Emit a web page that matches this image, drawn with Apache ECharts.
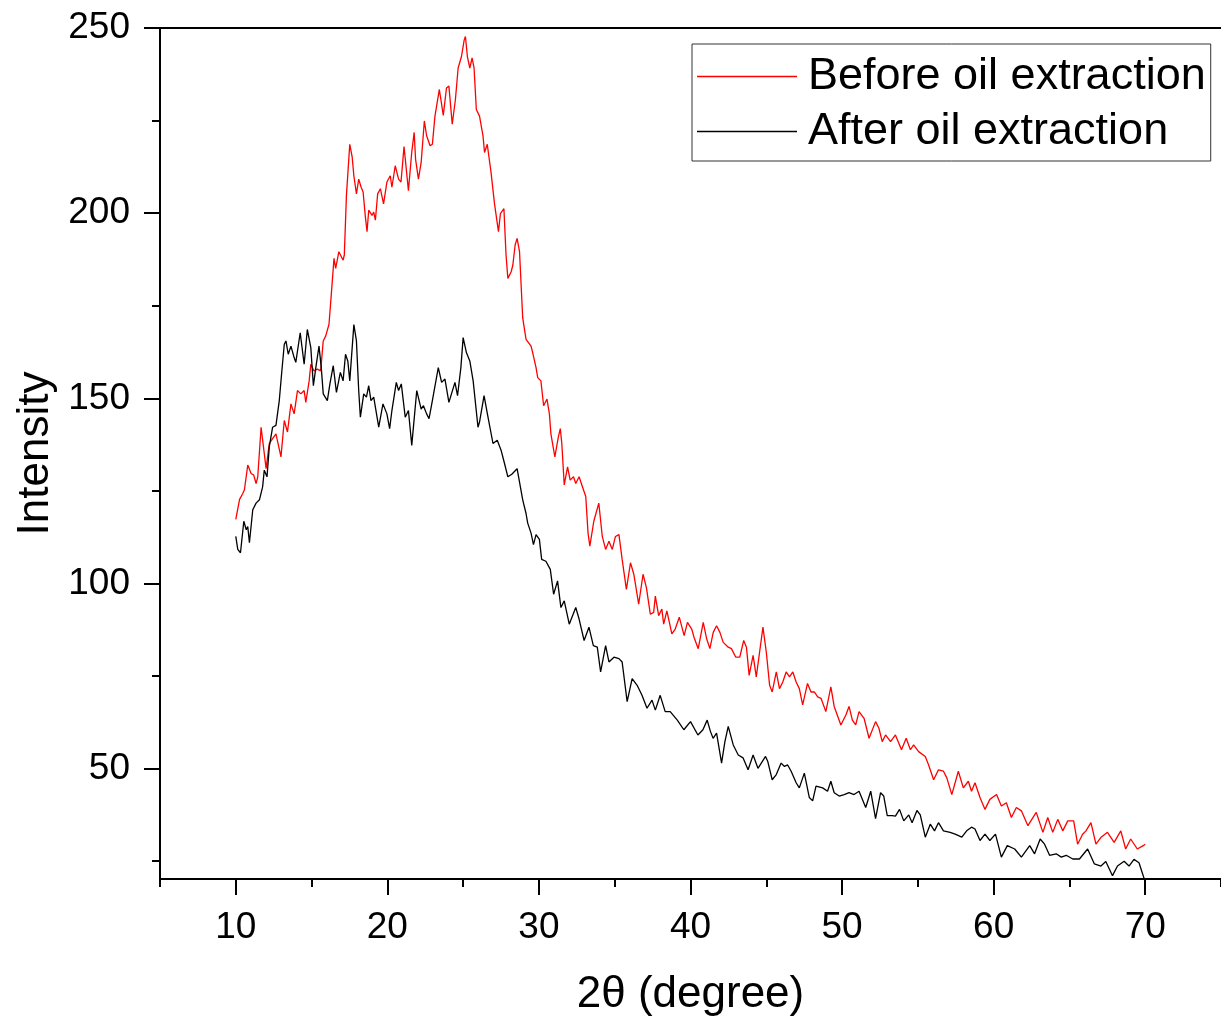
<!DOCTYPE html>
<html>
<head>
<meta charset="utf-8">
<script src="https://cdn.jsdelivr.net/npm/echarts@6/dist/echarts.min.js"></script>
<style>
html,body{margin:0;padding:0;background:#fff;}
#chart{width:1221px;height:1022px;}
</style>
</head>
<body>
<div id="chart"></div>
<script>
// ---- data ----
var xMajorTicks = [10, 20, 30, 40, 50, 60, 70];
var xMinorTicks = [5, 15, 25, 35, 45, 55, 65, 75];
var yMajorTicks = [50, 100, 150, 200, 250];
var yMinorTicks = [25, 75, 125, 175, 225];
var seriesNames = ['Before oil extraction', 'After oil extraction'];

var beforeX = [10.00,10.25,10.46,10.57,10.79,11.01,11.18,11.34,11.45,11.67,
12.00,12.21,12.43,12.65,12.98,13.20,13.41,13.64,13.85,14.07,
14.29,14.51,14.62,14.84,14.95,15.16,15.38,15.60,15.77,15.93,
16.15,16.30,16.48,16.59,16.80,17.08,17.16,17.30,17.52,17.68,
17.79,17.96,18.11,18.27,18.40,18.55,18.66,18.77,18.99,19.10,
19.21,19.36,19.54,19.75,19.97,20.19,20.30,20.52,20.74,20.90,
21.10,21.39,21.61,21.77,21.86,22.05,22.23,22.44,22.59,22.82,
22.97,23.14,23.43,23.69,23.90,24.06,24.28,24.49,24.67,24.89,
25.07,25.15,25.28,25.44,25.59,25.72,25.87,26.08,26.31,26.41,
26.59,26.84,27.07,27.33,27.46,27.69,27.83,27.95,28.17,28.28,
28.43,28.56,28.72,28.93,29.15,29.48,29.59,29.81,29.92,30.13,
30.31,30.53,30.69,30.79,31.05,31.28,31.41,31.51,31.67,31.89,
32.06,32.28,32.43,32.65,32.87,33.09,33.24,33.36,33.62,33.95,
34.18,34.40,34.62,34.84,35.05,35.28,35.49,35.77,36.04,36.26,
36.58,36.87,37.09,37.35,37.57,37.68,37.90,38.11,38.23,38.44,
38.77,38.99,39.26,39.58,39.80,40.08,40.23,40.51,40.84,41.07,
41.28,41.50,41.72,41.94,42.16,42.49,42.70,42.99,43.25,43.51,
43.69,43.87,44.13,44.34,44.56,44.78,45.00,45.22,45.39,45.66,
45.87,46.09,46.31,46.53,46.75,46.97,47.18,47.40,47.72,47.95,
48.17,48.39,48.61,48.93,49.26,49.48,49.92,50.25,50.46,50.68,
50.90,51.12,51.45,51.78,52.21,52.43,52.65,52.87,53.20,53.52,
53.92,54.23,54.51,54.72,55.05,55.49,55.71,56.04,56.36,56.69,
56.91,57.24,57.67,58.00,58.33,58.54,58.77,59.10,59.43,59.75,
60.19,60.51,60.84,61.17,61.50,61.83,62.26,62.81,63.25,63.57,
63.90,64.23,64.56,64.89,65.28,65.54,65.87,66.09,66.42,66.75,
67.07,67.51,67.95,68.39,68.71,69.04,69.48,69.87,70.00];
var beforeY = [117.3,122.7,124.3,125.3,132,129.7,129.3,127,128.8,142.2,
131,137.8,139.1,140.4,134.2,144,140.9,148.5,145.8,152.1,
151.2,152.1,148.9,154.7,159.2,157.4,157.9,157.4,165.5,166.8,
170,178,187.8,185.1,189.6,187.3,188.7,204.8,218.6,215.1,
210.1,205.2,209.2,207,205.7,199,195,200.8,199.4,200.3,
198.1,205.2,206.6,202.5,208.4,210.1,207,212.8,209.2,208.4,
218,206.1,216.5,221.8,214.6,209.2,213.7,224.9,220.9,218.2,
218.6,226.2,233.4,226.4,233.8,234.3,224,230.7,239.2,242.3,
246.8,247.7,242.3,239.2,241.9,239.2,228,226.2,220.9,216.4,
218.6,211,202.5,195,199.9,201.2,188.7,182.4,184.2,186,
191.4,193.2,189.6,171.7,165.9,164.1,162.3,158.3,155.6,154.7,
148,149.8,145.8,140.4,134.2,139.5,141.8,137.8,126.6,131.5,
127.9,128.8,127,128.8,126.1,123.5,113.6,110.1,116.8,121.7,
112.7,109.2,111.4,109.2,112.7,113.2,106.5,98.4,105.6,102.5,
94.4,102.5,98.9,91.7,92.2,96.6,91.3,93.1,89,92.6,
86.4,87.7,90.9,85.9,89.5,87.7,85.5,82.4,89.5,85,
82.4,86.8,88.6,86.8,84.1,82.8,82.4,80.1,80.1,84.6,
82.8,75.2,80.6,74.8,81.5,88.2,81.5,72.5,70.7,76.1,
71.6,73.4,76.1,74.8,76.1,73.4,71.6,67.2,73,70.7,
70.7,69.4,69,65.4,72.1,66.8,61.8,64.5,66.8,63.1,
61.8,65.4,63.6,58.2,62.7,60.9,57.3,59.1,57.3,59.1,
55.1,58.2,55.1,56.4,54.6,53.3,51,47,49.7,49.3,
47.5,43,49.3,44.8,46.6,43.9,46.2,42.2,39,41.7,
43,39.9,40.8,36.8,39.5,38.6,34.6,38.2,32.8,36.8,
32.8,36.3,33.2,35.9,35.9,29.6,32.3,33.2,35.4,29.6,
31.4,32.8,30.1,33.2,28.3,31,28.3,29.2,29.6];

var afterX = [10.00,10.13,10.31,10.53,10.69,10.79,10.90,11.12,11.34,11.56,
11.77,11.88,12.06,12.21,12.43,12.65,12.76,12.87,13.02,13.20,
13.31,13.46,13.64,13.85,13.96,14.25,14.51,14.72,14.95,15.12,
15.28,15.49,15.64,15.77,16.04,16.21,16.43,16.64,16.90,17.08,
17.24,17.39,17.52,17.79,17.96,18.11,18.22,18.44,18.62,18.77,
18.92,19.10,19.43,19.71,19.97,20.15,20.30,20.59,20.74,20.92,
21.18,21.39,21.61,21.94,22.23,22.38,22.59,22.75,22.97,23.36,
23.58,23.80,24.06,24.23,24.46,24.63,24.85,25.00,25.22,25.44,
25.66,25.98,26.08,26.38,26.64,26.97,27.25,27.51,27.73,27.95,
28.21,28.56,28.93,29.15,29.26,29.48,29.64,29.81,30.03,30.18,
30.46,30.57,30.75,30.97,31.23,31.45,31.67,32.00,32.43,32.65,
32.98,33.30,33.59,33.85,34.07,34.40,34.62,34.95,35.28,35.49,
35.82,36.15,36.48,36.80,37.13,37.46,37.68,38.00,38.33,38.66,
39.13,39.56,40.00,40.49,40.82,41.10,41.32,41.49,41.72,42.05,
42.27,42.49,42.82,43.15,43.47,43.80,44.13,44.45,44.67,44.95,
45.10,45.39,45.66,45.98,46.20,46.41,46.64,46.97,47.18,47.51,
47.84,48.06,48.28,48.72,49.04,49.26,49.48,49.81,50.14,50.46,
50.79,51.12,51.56,51.89,52.21,52.54,52.75,52.98,53.31,53.52,
53.79,54.07,54.40,54.62,54.94,55.16,55.49,55.82,56.10,56.36,
56.69,57.13,57.46,57.90,58.22,58.54,58.77,59.10,59.43,59.75,
60.12,60.51,60.90,61.39,61.83,62.38,62.70,63.07,63.36,63.69,
64.13,64.46,64.79,65.22,65.66,66.20,66.64,67.08,67.40,67.84,
68.17,68.61,68.93,69.26,69.59,69.82,69.93];
var afterY = [112.7,109.2,108.3,116.8,114.5,115.4,111,119.9,121.7,122.6,
126.1,130.6,128.8,136.9,142.2,142.7,143.1,149.4,156.5,164.6,
165.5,161.9,164.1,161,159.7,167.7,159.2,168.6,163.7,153.4,
158.3,164.1,158.3,151.2,149.4,153.9,158.8,151.6,157,154.7,
161.9,160.1,154.7,169.9,165.5,152.1,144.9,151.2,150.3,153.4,
149.4,150.3,142.2,148.5,145.8,141.8,146.7,154.3,152.1,153.9,
144.9,146.7,137.3,152.1,147.1,148,145.8,144.5,149.4,158.3,
154.3,155.2,148.9,151.2,154.3,150.7,158.3,166.4,162.3,160.1,
154.7,142.2,143.6,150.7,144.9,137.8,138.7,135.9,132.4,128.8,
129.5,131,122.6,118.9,116.3,113.6,110.5,113.2,111.9,106.5,
106,106.5,103.8,97.1,100.7,93.5,95.3,89,93.5,90.4,
84.6,88.2,83.2,82.8,76.1,83.2,78.8,80.1,79.7,78.8,
68.1,74.3,72.5,69.8,66.3,68.5,65.8,69.8,65.4,65.4,
63.1,60.5,62.7,59.1,60.5,63.1,60,58.2,59.6,51.5,
57.3,61.4,56.4,53.7,52.9,49.7,53.7,50.1,51.5,53.3,
51.9,47,48.4,51.5,50.6,51,49.3,46.2,44.8,48.8,
42.2,41.3,45.3,44.8,43.9,46.6,43.5,42.6,43,43.5,
43,43.9,39.5,43.9,36.5,43.5,42.6,37.3,37.3,37.2,
39,35.9,37.5,35.4,38.7,37.5,31.5,35,33.2,35.4,
33.2,32.8,32.3,31.5,33.2,34.2,33.7,30.6,32.3,30.6,
32.3,26.1,29.2,28.3,26.1,29.2,27,31,29.6,26.6,
27,26.1,26.6,25.6,25.6,28.3,24.3,23.7,24.9,21.1,
23.7,25,23.7,25.5,24.6,21.7,20.3];

function pairs(xs, ys) {
  var out = [];
  for (var i = 0; i < Math.min(xs.length, ys.length); i++) out.push([xs[i], ys[i]]);
  return out;
}

var FONT = '"Liberation Sans", Arial, sans-serif';
var chart = echarts.init(document.getElementById('chart'), null, {renderer: 'canvas'});
var axisLineStyle = {color: '#000', width: 2};

chart.setOption({
  animation: false,
  backgroundColor: '#fff',
  grid: {left: 160, top: 28, width: 1065, height: 857, containLabel: false},
  legend: {
    orient: 'vertical',
    left: 692, top: 44,
    data: seriesNames,
    icon: 'rect',
    itemWidth: 100, itemHeight: 1.3,
    itemGap: 10,
    padding: [10, 5, 7, 5],
    borderColor: '#333', borderWidth: 1, borderRadius: 0,
    backgroundColor: '#fff',
    textStyle: {fontFamily: FONT, fontSize: 45, color: '#000', padding: [0, 0, 0, 6]}
  },
  xAxis: [{
    type: 'value', min: 5, max: 75, position: 'bottom',
    name: '2θ (degree)', nameLocation: 'middle', nameGap: 94,
    nameTextStyle: {fontFamily: FONT, fontSize: 44, color: '#000'},
    axisLine: {show: true, lineStyle: axisLineStyle},
    axisTick: {show: true, inside: false, length: 16, lineStyle: {color: '#000', width: 2}, customValues: xMajorTicks},
    axisLabel: {show: true, margin: 30, fontFamily: FONT, fontSize: 37, color: '#000', customValues: xMajorTicks},
    splitLine: {show: false}
  }, {
    type: 'value', min: 5, max: 75, position: 'bottom',
    axisLine: {show: false},
    axisTick: {show: true, inside: false, length: 8, lineStyle: {color: '#000', width: 2}, customValues: xMinorTicks},
    axisLabel: {show: false},
    splitLine: {show: false}
  }, {
    type: 'value', min: 5, max: 75, position: 'top',
    axisLine: {show: true, lineStyle: axisLineStyle},
    axisTick: {show: false}, axisLabel: {show: false}, splitLine: {show: false}
  }],
  yAxis: [{
    type: 'value', min: 20.2, max: 250, position: 'left',
    name: 'Intensity', nameLocation: 'middle', nameGap: 96,
    nameTextStyle: {fontFamily: FONT, fontSize: 44, color: '#000'},
    axisLine: {show: true, lineStyle: axisLineStyle},
    axisTick: {show: true, inside: false, length: 16, lineStyle: {color: '#000', width: 2}, customValues: yMajorTicks},
    axisLabel: {show: true, margin: 30, fontFamily: FONT, fontSize: 37, color: '#000', customValues: yMajorTicks},
    splitLine: {show: false}
  }, {
    type: 'value', min: 20.2, max: 250, position: 'left',
    axisLine: {show: false},
    axisTick: {show: true, inside: false, length: 8, lineStyle: {color: '#000', width: 2}, customValues: yMinorTicks},
    axisLabel: {show: false},
    splitLine: {show: false}
  }],
  series: [{
    name: seriesNames[0], type: 'line', xAxisIndex: 0, yAxisIndex: 0,
    data: pairs(beforeX, beforeY), showSymbol: false, symbol: 'none',
    lineStyle: {color: '#ff0000', width: 1.3}, itemStyle: {color: '#ff0000'}
  }, {
    name: seriesNames[1], type: 'line', xAxisIndex: 0, yAxisIndex: 0,
    data: pairs(afterX, afterY), showSymbol: false, symbol: 'none',
    lineStyle: {color: '#000000', width: 1.3}, itemStyle: {color: '#000000'}
  }]
});
</script>
</body>
</html>
